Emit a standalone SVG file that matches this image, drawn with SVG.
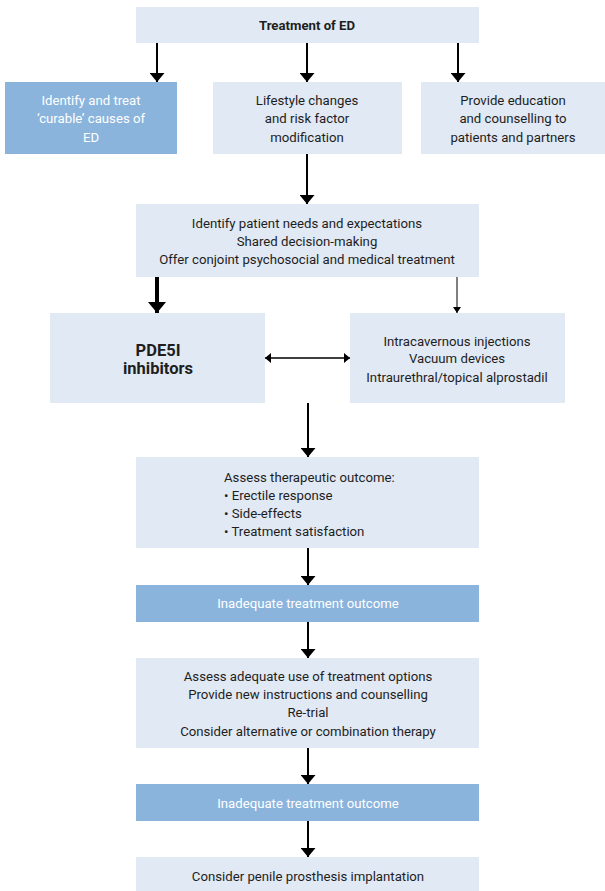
<svg xmlns="http://www.w3.org/2000/svg" width="605" height="891" viewBox="0 0 605 891">
<style>
.lb{fill:#E1E9F4}
.db{fill:#8AB4DC}
.t{font-family:Roboto,"Liberation Sans",sans-serif;font-size:13.2px;fill:#1E1E1E;text-anchor:middle}
.w{fill:#FFFFFF}
.b{font-weight:bold}
.big{font-size:16.5px;font-weight:bold}
.s{text-anchor:start}
.c{stroke:#000;fill:none}
</style>
<defs>
<marker id="ah" markerUnits="userSpaceOnUse" markerWidth="9" markerHeight="15" refX="9" refY="7.5" orient="auto"><path d="M0,0 L9,7.5 L0,15 z" fill="#000"/></marker>
<marker id="ahb" markerUnits="userSpaceOnUse" markerWidth="11" markerHeight="18" refX="11" refY="9" orient="auto"><path d="M0,0 L11,9 L0,18 z" fill="#000"/></marker>
<marker id="ahs" markerUnits="userSpaceOnUse" markerWidth="6" markerHeight="8" refX="6" refY="4" orient="auto"><path d="M0,0 L6,4 L0,8 z" fill="#000"/></marker>
<marker id="ahd" markerUnits="userSpaceOnUse" markerWidth="6" markerHeight="10" refX="6" refY="5" orient="auto-start-reverse"><path d="M0,0 L6,5 L0,10 z" fill="#000"/></marker>
</defs>
<g id="connectors">
<line class="c" x1="157" y1="43" x2="157" y2="82" stroke-width="2" marker-end="url(#ah)"/>
<line class="c" x1="307" y1="43" x2="307" y2="82" stroke-width="2" marker-end="url(#ah)"/>
<line class="c" x1="458" y1="43" x2="458" y2="82" stroke-width="2" marker-end="url(#ah)"/>
<line class="c" x1="307" y1="154" x2="307" y2="204" stroke-width="2" marker-end="url(#ah)"/>
<line class="c" x1="157" y1="277" x2="157" y2="313" stroke-width="4" marker-end="url(#ahb)"/>
<line class="c" x1="457" y1="277" x2="457" y2="313" stroke-width="1" marker-end="url(#ahs)"/>
<line class="c" x1="265" y1="358" x2="350" y2="358" stroke-width="1.5" marker-start="url(#ahd)" marker-end="url(#ahd)"/>
<line class="c" x1="308" y1="403" x2="308" y2="457" stroke-width="2" marker-end="url(#ah)"/>
<line class="c" x1="308" y1="548" x2="308" y2="585" stroke-width="2" marker-end="url(#ah)"/>
<line class="c" x1="308" y1="622" x2="308" y2="658" stroke-width="2" marker-end="url(#ah)"/>
<line class="c" x1="308" y1="748" x2="308" y2="784" stroke-width="2" marker-end="url(#ah)"/>
<line class="c" x1="308" y1="821" x2="308" y2="857" stroke-width="2" marker-end="url(#ah)"/>
</g>
<g id="treatment">
<rect class="lb" x="136" y="7" width="343" height="36"/>
<text class="t b" x="307" y="30">Treatment of ED</text>
</g>
<g id="curable">
<rect class="db" x="5" y="82" width="172" height="72"/>
<text class="t w" x="91" y="104.5">Identify and treat</text>
<text class="t w" x="91" y="122.5">‘curable’ causes of</text>
<text class="t w" x="91" y="141.5">ED</text>
</g>
<g id="lifestyle">
<rect class="lb" x="213" y="82" width="189" height="72"/>
<text class="t" x="307" y="104.5">Lifestyle changes</text>
<text class="t" x="307" y="122.5">and risk factor</text>
<text class="t" x="307" y="141.5">modification</text>
</g>
<g id="education">
<rect class="lb" x="421" y="82" width="184" height="72"/>
<text class="t" x="513" y="104.5">Provide education</text>
<text class="t" x="513" y="122.5">and counselling to</text>
<text class="t" x="513" y="141.5">patients and partners</text>
</g>
<g id="needs">
<rect class="lb" x="136" y="204" width="343" height="73"/>
<text class="t" x="307" y="227.5">Identify patient needs and expectations</text>
<text class="t" x="307" y="245.5">Shared decision-making</text>
<text class="t" x="307" y="263.5">Offer conjoint psychosocial and medical treatment</text>
</g>
<g id="pde5i">
<rect class="lb" x="50" y="313" width="215" height="90"/>
<text class="t big" x="158" y="355.5">PDE5I</text>
<text class="t big" x="158" y="374">inhibitors</text>
</g>
<g id="other">
<rect class="lb" x="350" y="313" width="215" height="90"/>
<text class="t" x="457" y="345.5">Intracavernous injections</text>
<text class="t" x="457" y="363">Vacuum devices</text>
<text class="t" x="457" y="381.5">Intraurethral/topical alprostadil</text>
</g>
<g id="assess">
<rect class="lb" x="136" y="457" width="343" height="91"/>
<text class="t s" x="224" y="481.5">Assess therapeutic outcome:</text>
<text class="t s" x="224" y="499.5">• Erectile response</text>
<text class="t s" x="224" y="517.5">• Side-effects</text>
<text class="t s" x="224" y="535.5">• Treatment satisfaction</text>
</g>
<g id="inadequate1">
<rect class="db" x="136" y="585" width="343" height="37"/>
<text class="t w" x="308" y="608">Inadequate treatment outcome</text>
</g>
<g id="adequate">
<rect class="lb" x="136" y="658" width="343" height="90"/>
<text class="t" x="308" y="680.5">Assess adequate use of treatment options</text>
<text class="t" x="308" y="698.5">Provide new instructions and counselling</text>
<text class="t" x="308" y="716.5">Re-trial</text>
<text class="t" x="308" y="735.5">Consider alternative or combination therapy</text>
</g>
<g id="inadequate2">
<rect class="db" x="136" y="784" width="343" height="37"/>
<text class="t w" x="308" y="807.5">Inadequate treatment outcome</text>
</g>
<g id="prosthesis">
<rect class="lb" x="136" y="857" width="343" height="34"/>
<text class="t" x="308" y="880.5">Consider penile prosthesis implantation</text>
</g>
</svg>
